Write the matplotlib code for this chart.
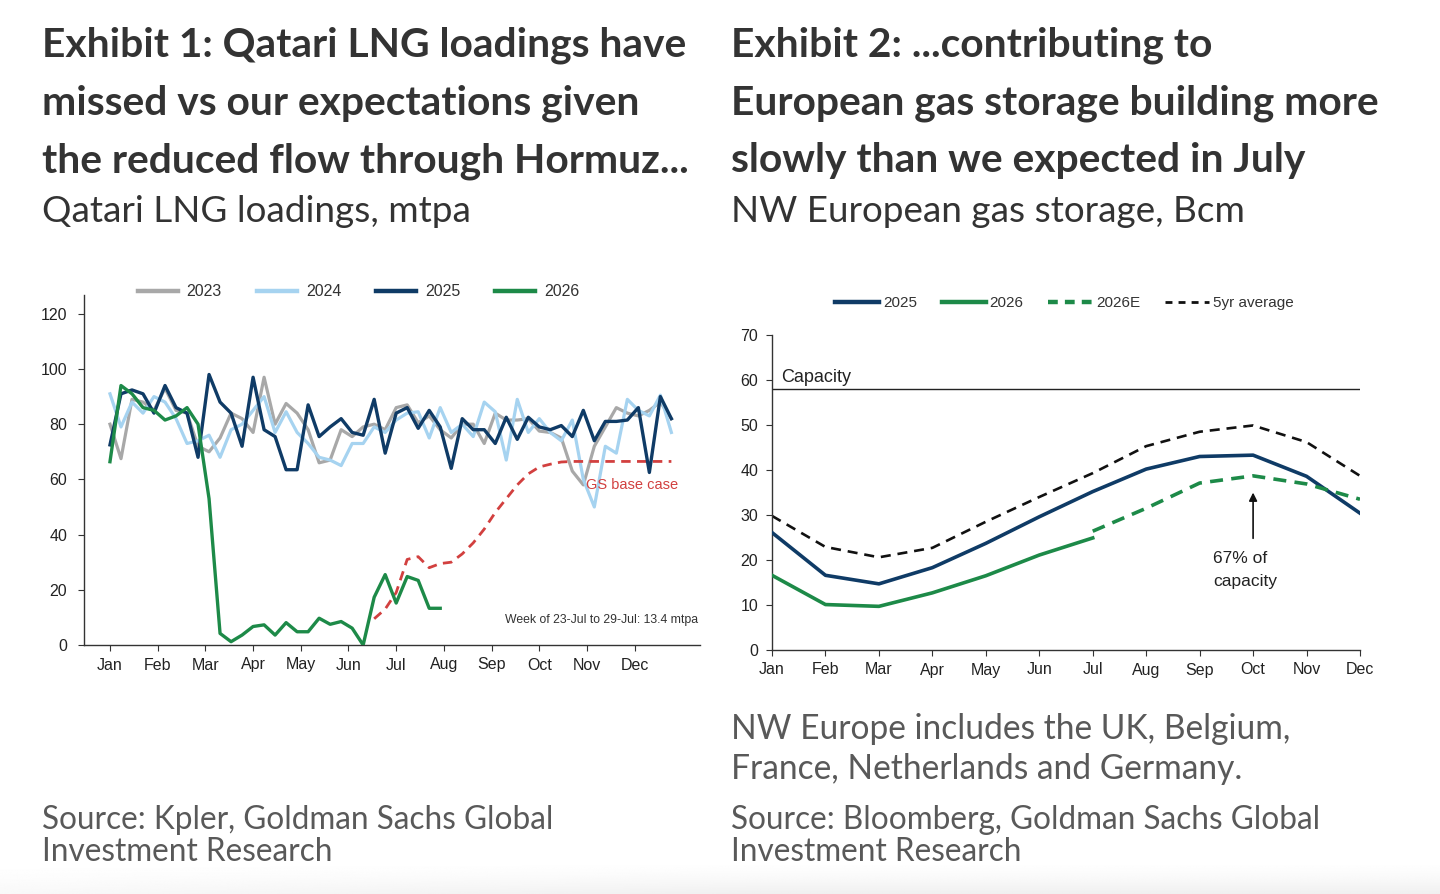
import numpy as np
import matplotlib
matplotlib.use("Agg")
import matplotlib.pyplot as plt
from matplotlib.lines import Line2D

# ---------------- DATA ----------------
# Exhibit 1: weekly Qatari LNG loadings, mtpa (week index 0..51)
months = ["Jan", "Feb", "Mar", "Apr", "May", "Jun", "Jul", "Aug", "Sep", "Oct", "Nov", "Dec"]

lng_2023 = [80, 67.5, 89, 88, 85, 93, 85, 84, 72, 70, 75, 84, 82, 77, 97, 80, 87.5, 84, 78, 66,
            67, 78, 75.5, 79, 80, 78, 86, 87, 80.5, 83, 78, 75, 80, 80, 73, 84, 81.5, 81.5, 82, 77.5,
            77, 75, 63, 58, 72, 79, 86, 84, 83, 85, 88, 82]
lng_2024 = [91, 79, 88, 84, 90, 88, 82, 73, 74, 76, 68, 78, 80, 85, 90, 77, 84.5, 77, 73, 68,
            67, 65, 73, 73, 79, 77, 81.5, 84, 84.5, 75, 86, 77, 80, 75.5, 88, 84.5, 67, 89, 77, 82,
            77, 74, 81.5, 60, 50, 72, 69.5, 89, 85, 83, 90.5, 77]
lng_2025 = [72.5, 91, 92.4, 91, 84, 94, 86, 84, 68, 98, 88, 84, 72, 97, 78, 75.5, 63.5, 63.5, 87, 75.5,
            79, 82, 77, 76, 89, 69.5, 84, 86, 78.5, 85, 79, 64, 82, 78, 78, 73, 82.5, 74.5, 82.5, 79,
            78, 79.5, 75.5, 85, 74, 81, 81, 81.5, 86, 62.5, 90, 82]
lng_2026 = [66.4, 94, 91, 86, 85, 81.5, 83, 86, 80, 53, 4.2, 1.2, 3.6, 6.7, 7.3, 3.6, 8.1, 4.8, 4.8, 9.7,
            7.5, 8.5, 6.1, 0, 17.3, 25.5, 15.2, 24.8, 23.4, 13.3, 13.3]
gs_base_weeks = list(range(24, 52))
gs_base_case = [9.5, 13, 19, 31, 32, 28, 29.5, 30, 33, 37, 42, 48, 53, 58, 62, 64.5, 65.5, 66.3,
                66.5, 66.5, 66.5, 66.5, 66.5, 66.5, 66.5, 66.5, 66.5, 66.5]

# Exhibit 2: NW European gas storage, Bcm (monthly)
stor_2025 = [26.1, 16.6, 14.7, 18.3, 23.7, 29.6, 35.2, 40.2, 43.0, 43.3, 38.6, 30.4]
stor_2026 = [16.6, 10.1, 9.7, 12.7, 16.5, 21.1, 24.9]
stor_2026e_months = [6, 7, 8, 9, 10, 11]
stor_2026e = [26.4, 31.5, 37.1, 38.7, 36.9, 33.5]
stor_5yr = [29.8, 22.9, 20.6, 22.7, 28.5, 34.0, 39.3, 45.3, 48.5, 49.9, 46.2, 38.7]
capacity = 57.9

# ---------------- STYLE ----------------
W, H = 1440, 894
C_GRAY = "#a8a8a8"
C_LBLUE = "#a6d3f0"
C_NAVY = "#0f3b66"
C_GREEN = "#1d8a48"
C_RED = "#d2403f"
C_TXT = "#333333"
C_SRC = "#595959"
CHART_FONT = ["Liberation Sans", "DejaVu Sans"]
HEAD_FONT = ["Lato", "DejaVu Sans"]

plt.rcParams["font.family"] = CHART_FONT
fig = plt.figure(figsize=(W / 100, H / 100), dpi=100)
fig.patch.set_facecolor("white")


def fx(px):
    return px / W


def fy(py):
    return 1 - py / H


# bottom soft shadow
bg = fig.add_axes([0, 0, 1, fy(860)], zorder=-10)
grad = np.linspace(0, 1, 60)[:, None] ** 1.6
horiz = np.clip(np.linspace(0.3, 1.0, 200)[None, :] * 1.5, 0, 1)
bg.imshow(1 - 0.06 * grad * horiz, cmap="gray", vmin=0, vmax=1, aspect="auto",
          extent=[0, 1, 0, 1], origin="upper")
bg.axis("off")

# ---------------- LEFT CHART ----------------
axL = fig.add_axes([fx(84), fy(645), fx(700 - 84), (645 - 295) / H])
weeks = np.arange(52)
axL.plot(weeks, lng_2023, color=C_GRAY, lw=2.3, label="2023", zorder=2)
axL.plot(weeks, lng_2024, color=C_LBLUE, lw=2.3, label="2024", zorder=3)
axL.plot(weeks, lng_2025, color=C_NAVY, lw=2.4, label="2025", zorder=4)
axL.plot(np.arange(len(lng_2026)), lng_2026, color=C_GREEN, lw=2.4, label="2026", zorder=5)
axL.plot(gs_base_weeks, gs_base_case, color=C_RED, lw=2.0, ls=(0, (3.4, 2.3)), zorder=3)

axL.set_xlim(-2.36, 53.6)
axL.set_ylim(0, 126.8)
axL.set_yticks(np.arange(0, 121, 20))
axL.set_xticks(np.arange(12) * 52 / 12)
axL.set_xticklabels(months)
for s in ["top", "right"]:
    axL.spines[s].set_visible(False)
for s in ["left", "bottom"]:
    axL.spines[s].set_color("#333333")
    axL.spines[s].set_linewidth(1.0)
axL.tick_params(axis="both", direction="out", length=4, width=0.8, colors="#333333",
                labelsize=11.5, labelcolor="#222222")
axL.tick_params(axis="y", pad=8)
axL.tick_params(axis="x", pad=5)

axL.text(43.2, 57.8, "GS base case", color=C_RED, fontsize=10.5, ha="left", va="center")
axL.text(53.4, 9.2, "Week of 23-Jul to 29-Jul: 13.4 mtpa", color="#333333", fontsize=8.8,
         ha="right", va="center")

legL = axL.legend(loc="center left", bbox_to_anchor=((138 - 84) / 616, (645 - 292) / 350),
                  ncol=4, frameon=False, fontsize=11.5, handlelength=2.5, handletextpad=0.55,
                  columnspacing=2.2, borderaxespad=0, borderpad=0)
for h in legL.get_lines():
    h.set_linewidth(3.2)
for t in legL.get_texts():
    t.set_color("#333333")

# ---------------- RIGHT CHART ----------------
axR = fig.add_axes([fx(772), fy(650), fx(1360 - 772), (650 - 335) / H])
mi = np.arange(12)
axR.axhline(capacity, color="#222222", lw=1.0, zorder=1)
axR.plot(mi, stor_5yr, color="#111111", lw=1.9, ls=(0, (3.8, 2.6)), label="5yr average", zorder=2)
axR.plot(mi, stor_2025, color=C_NAVY, lw=2.6, label="2025", zorder=3)
axR.plot(np.arange(len(stor_2026)), stor_2026, color=C_GREEN, lw=2.6, label="2026", zorder=3)
axR.plot(stor_2026e_months, stor_2026e, color=C_GREEN, lw=2.6, ls=(0, (3.6, 2.3)), label="2026E",
         zorder=3)
axR.set_xlim(0, 11)
axR.set_ylim(0, 70)
axR.set_yticks(np.arange(0, 71, 10))
axR.set_xticks(mi)
axR.set_xticklabels(months)
for s in ["top", "right"]:
    axR.spines[s].set_visible(False)
for s in ["left", "bottom"]:
    axR.spines[s].set_color("#333333")
    axR.spines[s].set_linewidth(1.0)
axR.tick_params(axis="both", direction="out", length=4, width=0.8, colors="#333333",
                labelsize=11.5, labelcolor="#222222")
axR.tick_params(axis="y", pad=6)
axR.tick_params(axis="x", pad=5)

axR.text(0.18, 59.6, "Capacity", fontsize=13, color="#222222", ha="left", va="baseline")
axR.annotate("", xy=(9, 35.6), xytext=(9, 24.2),
             arrowprops=dict(arrowstyle="-|>", color="#111111", lw=1.2, mutation_scale=12))
axR.text(8.25, 20.3, "67% of", fontsize=12.5, color="#222222", ha="left", va="center")
axR.text(8.25, 15.3, "capacity", fontsize=12.5, color="#222222", ha="left", va="center")

hR = [Line2D([], [], color=C_NAVY, lw=3.2),
      Line2D([], [], color=C_GREEN, lw=3.2),
      Line2D([], [], color=C_GREEN, lw=3.2, ls=(0, (2.2, 1.6))),
      Line2D([], [], color="#111111", lw=2.0, ls=(0, (2.5, 2.2)))]
legR = axR.legend(hR, ["2025", "2026", "2026E", "5yr average"], loc="center left",
                  bbox_to_anchor=((835 - 772) / 588, (650 - 303) / 315), ncol=4, frameon=False,
                  fontsize=11, handlelength=2.9, handletextpad=0.25, columnspacing=1.6,
                  borderaxespad=0, borderpad=0)
for t in legR.get_texts():
    t.set_color("#333333")

# ---------------- HEADINGS / NOTES ----------------
def put(x, y, s, **kw):
    return fig.text(fx(x), fy(y), s, ha="left", va="baseline", **kw)


titleL = ["Exhibit 1: Qatari LNG loadings have", "missed vs our expectations given",
          "the reduced flow through Hormuz..."]
titleR = ["Exhibit 2: ...contributing to", "European gas storage building more",
          "slowly than we expected in July"]
title_base = [57, 114, 172]
tL = [put(42, y, s, fontsize=27, fontweight="bold", color=C_TXT, family=HEAD_FONT)
      for s, y in zip(titleL, title_base)]
tR = [put(731, y, s, fontsize=27, fontweight="bold", color=C_TXT, family=HEAD_FONT)
      for s, y in zip(titleR, title_base)]
subL = put(42, 222, "Qatari LNG loadings, mtpa", fontsize=24, color=C_TXT, family=HEAD_FONT)
subR = put(731, 222, "NW European gas storage, Bcm", fontsize=24, color=C_TXT, family=HEAD_FONT)
noteR = [put(731, 739, "NW Europe includes the UK, Belgium,", fontsize=24, color=C_SRC,
             family=HEAD_FONT),
         put(731, 779, "France, Netherlands and Germany.", fontsize=24, color=C_SRC,
             family=HEAD_FONT)]
srcL = [put(42, 829, "Source: Kpler, Goldman Sachs Global", fontsize=22, color=C_SRC,
            family=HEAD_FONT),
        put(42, 861, "Investment Research", fontsize=22, color=C_SRC, family=HEAD_FONT)]
srcR = [put(731, 829, "Source: Bloomberg, Goldman Sachs Global", fontsize=22, color=C_SRC,
            family=HEAD_FONT),
        put(731, 861, "Investment Research", fontsize=22, color=C_SRC, family=HEAD_FONT)]

fig.canvas.draw()
r = fig.canvas.get_renderer()


def fit(group, ref, target):
    w = ref.get_window_extent(r).width
    s = ref.get_fontsize() * target / w
    for t in group:
        t.set_fontsize(s)


fit(tL + tR, tL[0], 644)
fit([subL, subR], subL, 428)
fit(noteR, noteR[0], 559)
fit(srcL + srcR, srcL[0], 509)

fig.savefig("out.png", dpi=100, facecolor="white")
